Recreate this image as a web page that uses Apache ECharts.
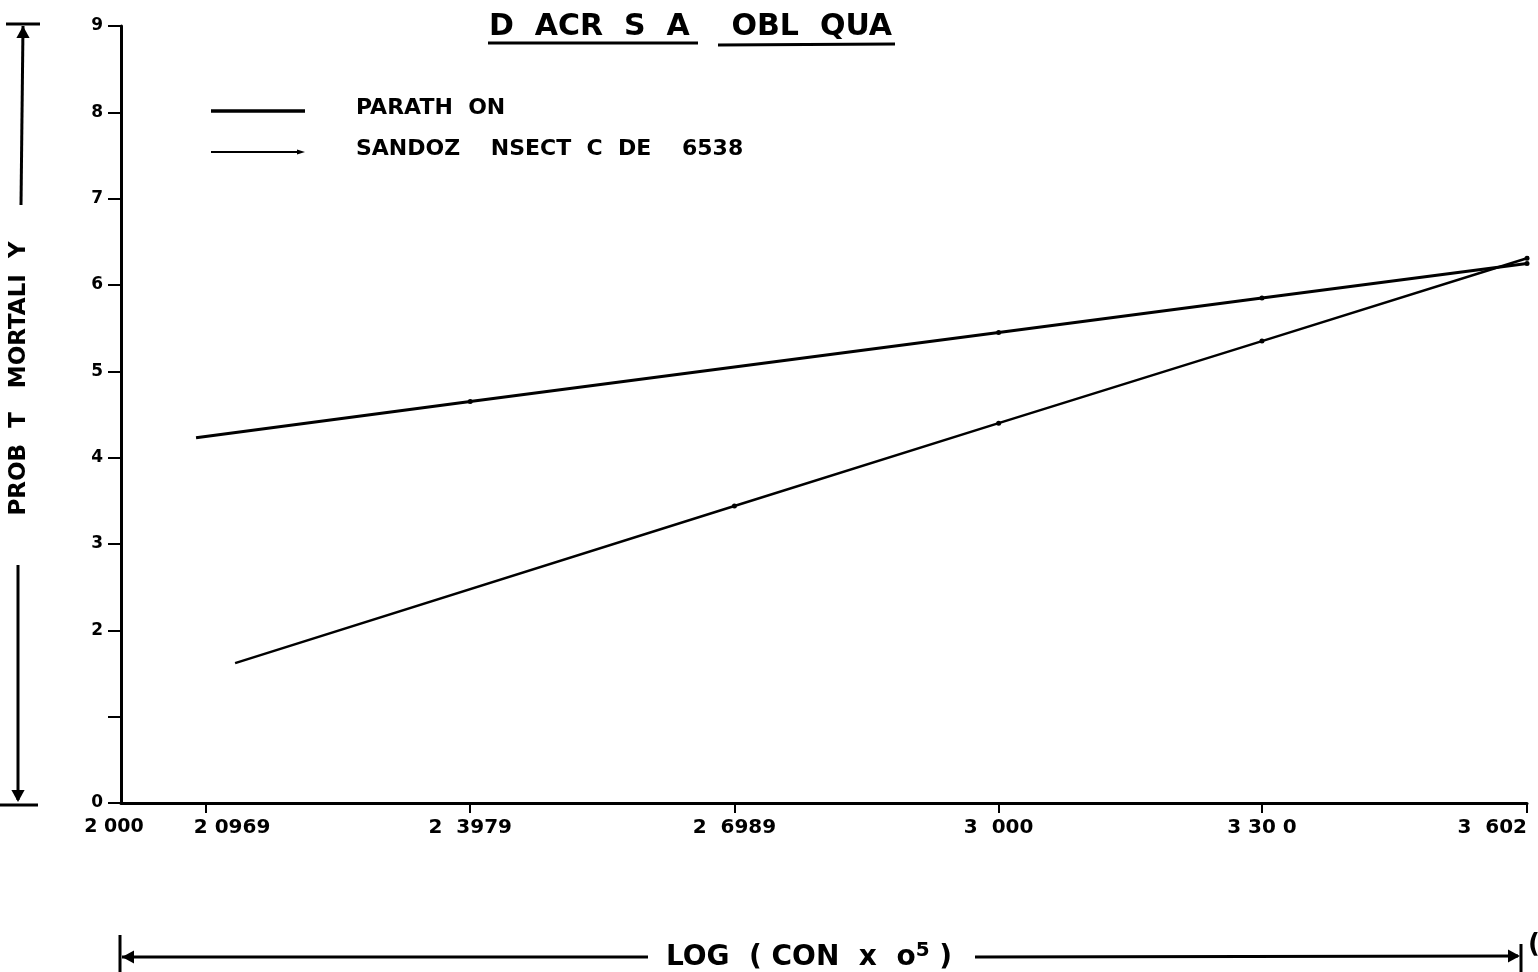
<!DOCTYPE html>
<html>
<head>
<meta charset="utf-8">
<script src="https://cdn.jsdelivr.net/npm/echarts@6/dist/echarts.min.js"></script>
<style>
  html, body { margin: 0; padding: 0; background: #fff; }
  #chart { width: 1538px; height: 972px; }
</style>
</head>
<body>
<div id="chart"></div>
<script>
// Probit mortality against log concentration for two insecticides
var titleParts = ['D  ACR  S  A', 'OBL  QUA'];
var seriesNames = ['PARATH ON', 'SANDOZ  NSECT C DE  6538'];

// x = log (conc x 10^5), y = probit mortality
var parathionX = [2.0855, 2.3979, 3.0, 3.3, 3.602, 3.6145];
var parathionY = [4.23, 4.65, 5.45, 5.85, 6.25, 6.26];
var sandozX = [2.130, 2.6989, 3.0, 3.3, 3.602, 3.6145];
var sandozY = [1.62, 3.44, 4.40, 5.35, 6.31, 6.36];

var xTickValues = [2.0, 2.0969, 2.3979, 2.6989, 3.0, 3.3, 3.602];
var xTickLabels = ['2 000', '2 0969', '2  3979', '2  6989', '3  000', '3 30 0', '3  602'];
var yTickLabels = ['0', '', '2', '3', '4', '5', '6', '7', '8', '9'];

var INK = '#000';
var FONT = '"DejaVu Sans", "Liberation Sans", sans-serif';

function pairs(xs, ys) {
  return xs.map(function (x, i) {
    var item = { value: [x, ys[i]] };
    // endpoints of each fitted line carry no plotted dot
    if (i === 0 || i === xs.length - 1) item.symbol = 'none';
    return item;
  });
}

var chart = echarts.init(document.getElementById('chart'), null, { renderer: 'canvas' });

function arrowHead(x, y, dir, size) {
  var s = size || 9, w = s * 0.55;
  var pts;
  if (dir === 'up') pts = [[x, y], [x - w, y + s], [x + w, y + s]];
  else if (dir === 'down') pts = [[x, y], [x - w, y - s], [x + w, y - s]];
  else if (dir === 'left') pts = [[x, y], [x + s, y - w], [x + s, y + w]];
  else pts = [[x, y], [x - s, y - w], [x - s, y + w]];
  return { type: 'polygon', shape: { points: pts }, style: { fill: INK } };
}
function seg(points, w) {
  return { type: 'polyline', shape: { points: points }, style: { stroke: INK, lineWidth: w || 3, fill: null } };
}

var option = {
  backgroundColor: '#fff',
  animation: false,
  title: {
    text: titleParts[0] + '    ' + titleParts[1],
    left: 484,
    top: 7,
    textStyle: { fontFamily: FONT, fontWeight: 'bold', fontSize: 30, color: INK }
  },
  legend: {
    orient: 'vertical',
    left: 206,
    top: 92,
    itemWidth: 94,
    itemHeight: 9,
    itemGap: 19,
    data: [
      { name: seriesNames[0], icon: 'path://M0,3 L94,3 L94,6.5 L0,6.5 Z' },
      { name: seriesNames[1], icon: 'path://M0,3.5 L88,3.5 L88,5.5 L0,5.5 Z M86,2 L94,4.5 L86,7 Z' }
    ],
    itemStyle: { color: INK },
    formatter: function (name) { return '{t|' + name.replace(/ /g, '  ') + '}'; },
    textStyle: {
      color: INK,
      rich: { t: { fontFamily: FONT, fontWeight: 'bold', fontSize: 22, color: INK, padding: [0, 0, 6, 46] } }
    }
  },
  grid: { left: 121, right: 11, top: 26, bottom: 169, containLabel: false, outerBoundsMode: 'none' },
  xAxis: {
    type: 'value',
    min: 2.0,
    max: 3.602,
    name: 'LOG  ( CON  x  o{sup|5} )',
    nameLocation: 'middle',
    nameGap: 138,
    nameTextStyle: {
      fontFamily: FONT, fontWeight: 'bold', fontSize: 28, color: INK, padding: [0, 30, 0, 0],
      rich: { sup: { fontFamily: FONT, fontWeight: 'bold', fontSize: 20, color: INK, verticalAlign: 'top', padding: [0, 0, 14, 0] } }
    },
    axisLine: { show: true, lineStyle: { color: INK, width: 3 } },
    splitLine: { show: false },
    axisTick: { show: true, customValues: xTickValues.slice(1), length: 10, lineStyle: { color: INK, width: 2 } },
    axisLabel: {
      customValues: xTickValues,
      margin: 15,
      alignMaxLabel: 'right',
      color: INK,
      fontFamily: FONT,
      fontWeight: 'bold',
      fontSize: 20,
      formatter: function (v) {
        var i = xTickValues.indexOf(v);
        var txt = i >= 0 ? xTickLabels[i] : '';
        if (i === 1) return '{r|' + txt + '}';
        if (i === 0) return '{l|' + txt + '}';
        return txt;
      },
      rich: {
        r: { fontFamily: FONT, fontWeight: 'bold', fontSize: 20, color: INK, padding: [0, 0, 0, 52] },
        l: { fontFamily: FONT, fontWeight: 'bold', fontSize: 19, color: INK, padding: [0, 14, 0, 0] }
      }
    }
  },
  yAxis: {
    type: 'value',
    min: 0,
    max: 9,
    interval: 1,
    name: 'PROB  T   MORTALI  Y',
    nameLocation: 'middle',
    nameRotate: 90,
    nameGap: 90,
    nameTextStyle: { fontFamily: FONT, fontWeight: 'bold', fontSize: 23, color: INK, padding: [0, 0, 0, 72] },
    axisLine: { show: true, lineStyle: { color: INK, width: 3 } },
    splitLine: { show: false },
    axisTick: { show: true, length: 13, lineStyle: { color: INK, width: 2 } },
    axisLabel: {
      margin: 18,
      color: INK,
      fontFamily: FONT,
      fontWeight: 'bold',
      fontSize: 17,
      formatter: function (v) { return yTickLabels[Math.round(v)]; }
    }
  },
  series: [
    {
      name: seriesNames[0],
      type: 'line',
      clip: false,
      data: pairs(parathionX, parathionY),
      symbol: 'circle',
      symbolSize: 5,
      itemStyle: { color: INK },
      lineStyle: { color: INK, width: 3 }
    },
    {
      name: seriesNames[1],
      type: 'line',
      clip: false,
      data: pairs(sandozX, sandozY),
      symbol: 'circle',
      symbolSize: 5,
      itemStyle: { color: INK },
      lineStyle: { color: INK, width: 2.5 }
    }
  ],
  graphic: [
    // title underlines
    seg([[488, 43], [698, 43]], 3),
    seg([[718, 45], [895, 44]], 3),
    // vertical dimension arrow beside the y axis name
    seg([[6, 24], [40, 24]], 3),
    seg([[23, 26], [21, 205]], 3),
    arrowHead(23, 26, 'up', 12),
    seg([[18, 565], [18, 800]], 3),
    arrowHead(18, 802, 'down', 12),
    seg([[0, 805], [38, 805]], 3),
    // horizontal dimension arrow beside the x axis name
    seg([[120, 935], [120, 972]], 3),
    seg([[122, 957], [648, 957]], 3),
    arrowHead(122, 957, 'left', 12),
    seg([[975, 957], [1518, 956]], 3),
    arrowHead(1520, 956, 'right', 12),
    seg([[1521, 944], [1521, 972]], 3),
    { type: 'text', left: 1528, top: 932, style: { text: '(', fill: INK, font: 'bold 26px ' + FONT } }
  ]
};

chart.setOption(option);
</script>
</body>
</html>
